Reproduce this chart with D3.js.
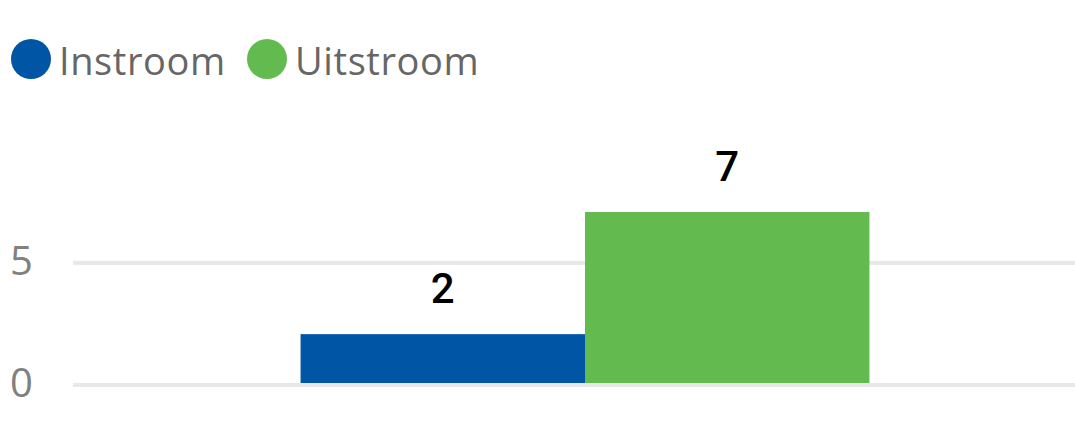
<!DOCTYPE html>
<html><head><meta charset="utf-8">
<script src="https://cdn.jsdelivr.net/npm/d3@7"></script>
<style>body{margin:0;background:#fff}svg{display:block}</style>
</head><body>
<svg id="c" width="1075" height="425"></svg>
<script>
const categories = ["Totaal"];
const seriesNames = ["Instroom", "Uitstroom"];
const seriesColors = ["#0155a5", "#63bb4f"];
const instroom = [2];
const uitstroom = [7];
const yTicks = [0, 5];

const svg = d3.select("#c");
const W = 1075;
const y = d3.scaleLinear().domain([0, 8]).range([383, 187.6]);
const x0 = d3.scaleBand().domain(categories).range([73, 1097]).paddingInner(0).paddingOuter(0.4);
const x1 = d3.scaleBand().domain(seriesNames).range([0, x0.bandwidth()]).padding(0);

// grid lines
svg.append("g").selectAll("rect").data(yTicks).join("rect")
  .attr("x", 73).attr("width", W - 73)
  .attr("y", d => y(d)).attr("height", 4)
  .attr("fill", "#e8e8e8");

// tick labels
svg.append("g").selectAll("text").data(yTicks).join("text")
  .attr("x", 10).attr("y", d => y(d) + 14)
  .attr("font-family", "'Open Sans', sans-serif").attr("font-size", 40)
  .attr("fill", "#808080")
  .text(d => d);

const data = categories.map((c, i) => ({cat: c, vals: [instroom[i], uitstroom[i]]}));
const g = svg.append("g");
data.forEach(d => {
  d.vals.forEach((v, j) => {
    const bx = x0(d.cat) + x1(seriesNames[j]);
    g.append("rect").attr("x", bx).attr("width", x1.bandwidth())
      .attr("y", y(v)).attr("height", y(0) - y(v))
      .attr("fill", seriesColors[j]);
    g.append("text").attr("x", bx + x1.bandwidth() / 2).attr("y", y(v) - 31)
      .attr("text-anchor", "middle")
      .attr("font-family", "Roboto, sans-serif").attr("font-weight", 500).attr("font-size", 42)
      .attr("fill", "#000").text(v);
  });
});

// legend
const legX = [31, 267];
const leg = svg.append("g");
seriesNames.forEach((s, i) => {
  leg.append("circle").attr("cx", legX[i]).attr("cy", 59).attr("r", 20).attr("fill", seriesColors[i]);
  leg.append("text").attr("x", legX[i] + 28).attr("y", 75)
    .attr("font-family", "'Open Sans', sans-serif").attr("font-size", 38)
    .attr("letter-spacing", 0.6)
    .attr("fill", "#666").text(s);
});
</script>
</body></html>
